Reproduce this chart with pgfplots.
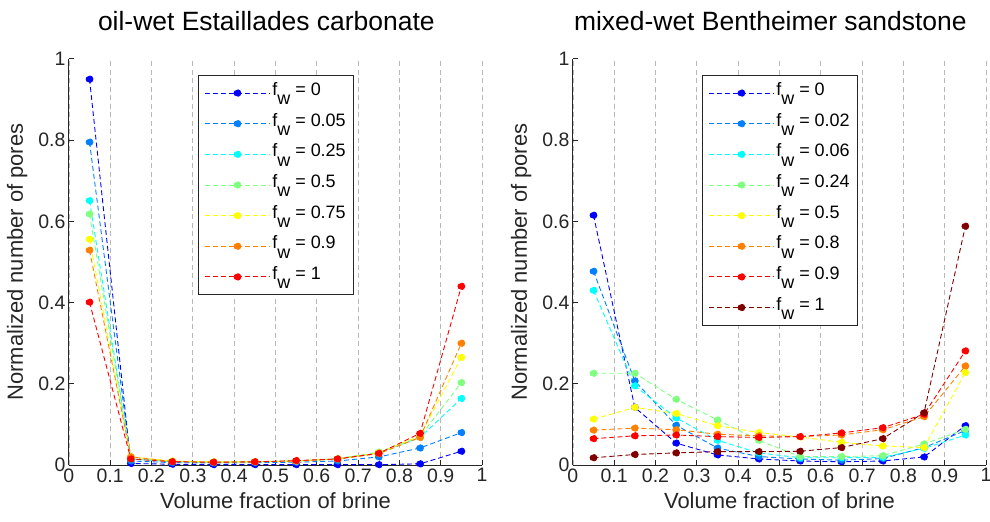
\documentclass[border=0pt]{standalone}
\usepackage{pgfplots}
\pgfplotsset{compat=1.18}
\usepackage{fontspec}
\setmainfont{Liberation Sans}
\definecolor{c1}{rgb}{0,0,1}
\definecolor{c2}{rgb}{0,0.5,1}
\definecolor{c3}{rgb}{0,1,1}
\definecolor{c4}{rgb}{0.5,1,0.5}
\definecolor{c5}{rgb}{1,1,0}
\definecolor{c6}{rgb}{1,0.5,0}
\definecolor{c7}{rgb}{1,0,0}
\definecolor{c8}{rgb}{0.5,0,0}
\definecolor{axgray}{rgb}{0.15,0.15,0.15}
\newcommand{\fw}[1]{f\raisebox{-0.52em}{w} = #1}
\pgfplotsset{
  myax/.style={
    scale only axis, width=414pt, height=407pt,
    xmin=0, xmax=1, ymin=0, ymax=1,
    axis x line*=bottom, axis y line*=left,
    axis line style={axgray, line width=0.8pt},
    tick align=inside, major tick length=5pt,
    tick style={axgray, line width=0.8pt},
    xtick={0,0.1,0.2,0.3,0.4,0.5,0.6,0.7,0.8,0.9,1},
    ytick={0,0.2,0.4,0.6,0.8,1},
    xticklabels={0,0.1,0.2,0.3,0.4,0.5,0.6,0.7,0.8,0.9,1},
    yticklabels={0,0.2,0.4,0.6,0.8,1},
    xmajorgrids,
    major grid style={black!28, dash pattern=on 5pt off 3.5pt, line width=0.7pt},
    tick label style={font=\fontsize{19.5}{21}\selectfont, text=axgray},
    label style={font=\fontsize{22}{24}\selectfont, text=axgray},
    title style={font=\fontsize{26.5}{29}\selectfont, at={(axis description cs:0.478,1.0786)}, anchor=center, yshift=0pt},
    xlabel={Volume fraction of brine},
    ylabel={Normalized number of pores},
    x label style={at={(axis description cs:0.5,-0.0885)}, anchor=center},
    y label style={at={(axis description cs:-0.125,0.5)}, anchor=center},
    legend style={at={(axis description cs:0.313,0.961)}, anchor=north west,
      draw=axgray, line width=0.8pt, font=\fontsize{18}{19}\selectfont,
      inner xsep=6pt, inner ysep=6.5pt, row sep=7.7pt,
      cells={anchor=west}, nodes={inner xsep=2pt, inner ysep=0pt, text height=14pt, text depth=9pt}},
    legend image code/.code={\draw[mark repeat=2,mark phase=2,#1] plot coordinates {(0pt,0pt) (32.5pt,0pt) (65pt,0pt)};},
    every axis plot/.append style={dash pattern=on 5pt off 3pt, line width=0.9pt, mark=*, mark size=3.4pt, mark options={solid}},
  }
}
\begin{document}
\begin{tikzpicture}
\path[use as bounding box] (-69pt,-57pt) rectangle (923pt,466pt);
\begin{axis}[myax, at={(0pt,0pt)}, title={oil-wet Estaillades carbonate}]
\addplot[c1, mark options={fill=c1}] coordinates {(0.05,0.950)(0.15,0.004)(0.25,0.002)(0.35,0.001)(0.45,0.001)(0.55,0.001)(0.65,0.001)(0.75,0.001)(0.85,0.003)(0.95,0.034)};
\addlegendentry{\fw{0}}
\addplot[c2, mark options={fill=c2}] coordinates {(0.05,0.795)(0.15,0.010)(0.25,0.006)(0.35,0.005)(0.45,0.006)(0.55,0.007)(0.65,0.010)(0.75,0.020)(0.85,0.042)(0.95,0.080)};
\addlegendentry{\fw{0.05}}
\addplot[c3, mark options={fill=c3}] coordinates {(0.05,0.651)(0.15,0.015)(0.25,0.008)(0.35,0.007)(0.45,0.008)(0.55,0.010)(0.65,0.015)(0.75,0.030)(0.85,0.068)(0.95,0.164)};
\addlegendentry{\fw{0.25}}
\addplot[c4, mark options={fill=c4}] coordinates {(0.05,0.618)(0.15,0.017)(0.25,0.009)(0.35,0.007)(0.45,0.008)(0.55,0.010)(0.65,0.016)(0.75,0.032)(0.85,0.070)(0.95,0.203)};
\addlegendentry{\fw{0.5}}
\addplot[c5, mark options={fill=c5}] coordinates {(0.05,0.556)(0.15,0.020)(0.25,0.010)(0.35,0.008)(0.45,0.008)(0.55,0.010)(0.65,0.015)(0.75,0.030)(0.85,0.072)(0.95,0.265)};
\addlegendentry{\fw{0.75}}
\addplot[c6, mark options={fill=c6}] coordinates {(0.05,0.529)(0.15,0.020)(0.25,0.009)(0.35,0.007)(0.45,0.008)(0.55,0.010)(0.65,0.015)(0.75,0.028)(0.85,0.068)(0.95,0.300)};
\addlegendentry{\fw{0.9}}
\addplot[c7, mark options={fill=c7}] coordinates {(0.05,0.401)(0.15,0.015)(0.25,0.008)(0.35,0.007)(0.45,0.008)(0.55,0.011)(0.65,0.015)(0.75,0.029)(0.85,0.078)(0.95,0.440)};
\addlegendentry{\fw{1}}
\end{axis}
\begin{axis}[myax, at={(505pt,0pt)}, title={mixed-wet Bentheimer sandstone}]
\addplot[c1, mark options={fill=c1}] coordinates {(0.05,0.615)(0.15,0.142)(0.25,0.054)(0.35,0.025)(0.45,0.015)(0.55,0.010)(0.65,0.008)(0.75,0.010)(0.85,0.020)(0.95,0.097)};
\addlegendentry{\fw{0}}
\addplot[c2, mark options={fill=c2}] coordinates {(0.05,0.477)(0.15,0.207)(0.25,0.098)(0.35,0.042)(0.45,0.021)(0.55,0.015)(0.65,0.012)(0.75,0.016)(0.85,0.043)(0.95,0.085)};
\addlegendentry{\fw{0.02}}
\addplot[c3, mark options={fill=c3}] coordinates {(0.05,0.430)(0.15,0.195)(0.25,0.116)(0.35,0.061)(0.45,0.030)(0.55,0.018)(0.65,0.018)(0.75,0.019)(0.85,0.041)(0.95,0.074)};
\addlegendentry{\fw{0.06}}
\addplot[c4, mark options={fill=c4}] coordinates {(0.05,0.226)(0.15,0.226)(0.25,0.162)(0.35,0.111)(0.45,0.061)(0.55,0.021)(0.65,0.021)(0.75,0.023)(0.85,0.052)(0.95,0.088)};
\addlegendentry{\fw{0.24}}
\addplot[c5, mark options={fill=c5}] coordinates {(0.05,0.113)(0.15,0.142)(0.25,0.127)(0.35,0.097)(0.45,0.080)(0.55,0.069)(0.65,0.056)(0.75,0.047)(0.85,0.043)(0.95,0.228)};
\addlegendentry{\fw{0.5}}
\addplot[c6, mark options={fill=c6}] coordinates {(0.05,0.086)(0.15,0.091)(0.25,0.087)(0.35,0.076)(0.45,0.072)(0.55,0.070)(0.65,0.074)(0.75,0.087)(0.85,0.119)(0.95,0.244)};
\addlegendentry{\fw{0.8}}
\addplot[c7, mark options={fill=c7}] coordinates {(0.05,0.065)(0.15,0.072)(0.25,0.074)(0.35,0.070)(0.45,0.068)(0.55,0.070)(0.65,0.079)(0.75,0.092)(0.85,0.125)(0.95,0.281)};
\addlegendentry{\fw{0.9}}
\addplot[c8, mark options={fill=c8}] coordinates {(0.05,0.018)(0.15,0.026)(0.25,0.030)(0.35,0.033)(0.45,0.033)(0.55,0.034)(0.65,0.043)(0.75,0.065)(0.85,0.129)(0.95,0.588)};
\addlegendentry{\fw{1}}
\end{axis}
\end{tikzpicture}
\end{document}
